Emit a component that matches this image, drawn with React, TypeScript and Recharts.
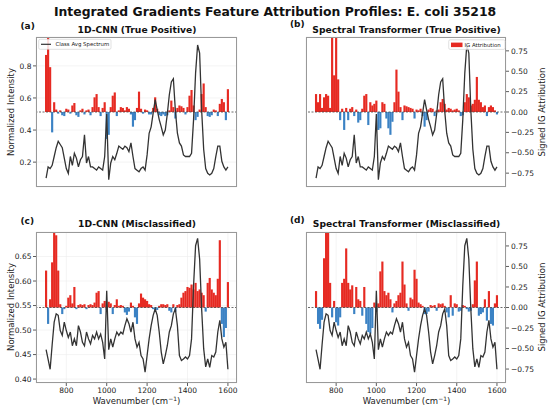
import React from 'react';
import { ComposedChart, Bar, Line, XAxis, YAxis, CartesianGrid, ReferenceLine, Cell } from 'recharts';

const FONT = '"DejaVu Sans", "Liberation Sans", sans-serif';

const wavenumbers = [
  700, 710, 720, 730, 740, 750, 760, 770, 780, 790,
  800, 810, 820, 830, 840, 850, 860, 870, 880, 890,
  900, 910, 920, 930, 940, 950, 960, 970, 980, 990,
  1000, 1010, 1020, 1030, 1040, 1050, 1060, 1070, 1080, 1090,
  1100, 1110, 1120, 1130, 1140, 1150, 1160, 1170, 1180, 1190,
  1200, 1210, 1220, 1230, 1240, 1250, 1260, 1270, 1280, 1290,
  1300, 1310, 1320, 1330, 1340, 1350, 1360, 1370, 1380, 1390,
  1400, 1410, 1420, 1430, 1440, 1450, 1460, 1470, 1480, 1490,
  1500, 1510, 1520, 1530, 1540, 1550, 1560, 1570, 1580, 1590,
  1600,
];

// Class average spectrum (true positive panels a, b)
const spectrumTP = [
  0.10, 0.17, 0.16, 0.18, 0.235, 0.29, 0.33, 0.31, 0.29, 0.225,
  0.16, 0.13, 0.235, 0.18, 0.255, 0.225, 0.17, 0.215, 0.235, 0.37,
  0.195, 0.235, 0.17, 0.17, 0.16, 0.15, 0.17, 0.16, 0.15, 0.235,
  0.50, 0.09, 0.195, 0.235, 0.215, 0.255, 0.30, 0.29, 0.28, 0.30,
  0.29, 0.265, 0.32, 0.235, 0.16, 0.15, 0.14, 0.16, 0.17, 0.15,
  0.245, 0.38, 0.42, 0.505, 0.59, 0.525, 0.465, 0.42, 0.37, 0.40,
  0.50, 0.62, 0.70, 0.72, 0.52, 0.38, 0.32, 0.30, 0.245, 0.235,
  0.235, 0.235, 0.255, 0.465, 0.755, 0.93, 0.88, 0.525, 0.28, 0.16,
  0.13, 0.12, 0.13, 0.16, 0.235, 0.30, 0.30, 0.205, 0.17, 0.15,
  0.17,
];

// Misclassified sample spectrum (panels c, d)
const spectrumMis = [
  0.46, 0.44, 0.42, 0.47, 0.516, 0.533, 0.53, 0.499, 0.489, 0.516,
  0.499, 0.485, 0.496, 0.468, 0.482, 0.468, 0.509, 0.496, 0.475, 0.468,
  0.496, 0.482, 0.472, 0.489, 0.482, 0.496, 0.482, 0.492, 0.475, 0.441,
  0.58, 0.46, 0.482, 0.465, 0.482, 0.496, 0.489, 0.496, 0.492, 0.509,
  0.523, 0.513, 0.496, 0.516, 0.482, 0.465, 0.475, 0.448, 0.441, 0.414,
  0.448, 0.482, 0.509, 0.53, 0.543, 0.53, 0.496, 0.455, 0.431, 0.448,
  0.468, 0.496, 0.509, 0.533, 0.543, 0.509, 0.448, 0.438, 0.441, 0.445,
  0.441, 0.448, 0.482, 0.591, 0.672, 0.687, 0.645, 0.543, 0.462, 0.425,
  0.441, 0.424, 0.448, 0.445, 0.455, 0.496, 0.52, 0.482, 0.465, 0.475,
  0.42,
];

const attrCnnTP = [
  0.70, 0.92, 0.55, -0.25, 0.12, 0.03, -0.02, 0.02, -0.04, -0.05,
  0.04, 0.03, -0.02, 0.08, 0.11, -0.04, -0.06, 0.02, 0.04, -0.03,
  0.02, 0.03, -0.04, 0.06, 0.18, 0.22, 0.06, -0.05, 0.05, 0.12,
  -0.33, -0.28, 0.06, 0.20, 0.24, -0.05, 0.02, 0.06, 0.05, 0.02,
  0.06, 0.04, -0.03, -0.18, -0.10, 0.05, 0.25, 0.04, -0.02, 0.03,
  0.02, -0.03, -0.03, 0.05, 0.18, 0.04, -0.04, -0.05, -0.03, -0.05,
  -0.04, 0.02, 0.14, 0.06, -0.08, 0.05, 0.08, 0.07, 0.05, -0.03,
  0.06, 0.20, 0.27, 0.08, -0.10, -0.06, 0.03, 0.22, 0.35, 0.06,
  -0.05, -0.06, -0.04, 0.03, 0.02, -0.05, 0.10, 0.16, 0.12, -0.10,
  0.28,
];

const attrTfTP = [
  0.22, 0.12, 0.22, 0.05, 0.18, 0.22, 0.20, 0.05, 0.92, 0.45,
  0.92, 0.40, -0.10, 0.04, -0.22, 0.05, -0.10, 0.04, 0.06, -0.05,
  0.03, -0.13, -0.10, 0.04, 0.20, 0.22, -0.16, 0.12, 0.08, 0.10,
  0.14, -0.22, -0.20, 0.12, 0.10, -0.08, -0.20, -0.28, -0.12, 0.12,
  0.52, 0.25, 0.06, -0.10, 0.08, 0.07, 0.06, 0.05, 0.04, -0.08,
  0.03, 0.02, 0.04, -0.05, -0.18, -0.10, 0.03, 0.05, 0.04, -0.05,
  0.02, 0.03, 0.12, 0.16, 0.10, 0.03, 0.05, 0.04, 0.02, 0.03,
  0.04, 0.02, -0.05, -0.04, 0.12, 0.22, 0.18, 0.08, 0.10, 0.15,
  0.43, 0.15, 0.12, 0.06, 0.08, -0.05, 0.06, 0.08, 0.06, 0.02,
  -0.03,
];

const attrCnnMis = [
  0.45, -0.20, 0.10, 0.55, 0.92, 0.88, 0.45, 0.04, -0.08, -0.02,
  0.02, 0.12, 0.15, 0.05, 0.25, -0.02, 0.03, 0.04, 0.03, 0.04,
  -0.02, 0.03, 0.04, 0.03, 0.06, 0.18, 0.20, -0.08, 0.05, 0.08,
  -0.03, 0.07, 0.05, -0.08, 0.03, 0.10, 0.02, 0.03, 0.02, -0.06,
  -0.09, -0.05, 0.06, 0.02, -0.12, -0.20, 0.05, 0.17, 0.12, 0.10,
  0.08, 0.04, 0.03, -0.02, -0.03, -0.03, 0.02, 0.04, 0.04, 0.03,
  0.04, -0.04, -0.06, 0.04, -0.05, 0.03, 0.04, 0.12, 0.18, 0.20,
  0.25, 0.24, 0.28, 0.22, 0.30, 0.20, 0.22, 0.18, 0.15, -0.05,
  0.30, 0.36, 0.22, 0.18, 0.15, 0.35, 0.82, -0.20, -0.36, -0.25,
  0.31,
];

const attrTfMis = [
  0.20, -0.20, -0.26, -0.15, 0.60, 0.92, 0.92, 0.30, -0.12, 0.08,
  -0.18, -0.22, -0.12, 0.30, 0.35, 0.72, 0.30, 0.22, 0.27, -0.08,
  0.25, 0.10, 0.08, -0.10, 0.25, -0.20, -0.30, -0.32, -0.25, 0.06,
  -0.05, 0.05, 0.44, 0.56, 0.20, 0.15, 0.18, 0.10, -0.06, 0.05,
  0.08, 0.15, 0.18, 0.56, 0.28, 0.05, -0.04, 0.12, 0.10, 0.46,
  0.35, 0.06, 0.04, 0.02, -0.08, -0.08, -0.05, 0.03, 0.02, 0.03,
  -0.04, 0.05, 0.04, 0.05, 0.02, -0.06, -0.12, 0.15, -0.10, 0.05,
  0.04, -0.05, -0.04, 0.03, 0.02, -0.02, -0.05, -0.04, 0.04, 0.33,
  0.56, -0.10, -0.08, -0.06, 0.10, -0.16, 0.20, -0.20, -0.22, 0.05,
  0.15,
];

const xTicks = [800, 1000, 1200, 1400, 1600];
const intensityTicksTP = [0.2, 0.4, 0.6, 0.8];
const intensityTicksMis = [0.4, 0.45, 0.5, 0.55, 0.6, 0.65];
const attrTicks = [-0.75, -0.5, -0.25, 0, 0.25, 0.5, 0.75];
const unlabeledTicksB = [0.145, 0.259, 0.375, 0.489, 0.606, 0.723, 0.838, 0.955];
const unlabeledTicksD = [0.4287, 0.475, 0.5205, 0.5668, 0.6123, 0.6586];

const RED = '#e62a22';
const BLUE = '#3b82c4';
const BAR_W = 2.15;

const fmtSigned = (v: number) => {
  const s = v.toFixed(2);
  return v < 0 ? '\u2212' + s.slice(1) : s;
};

// draws the bar the library positioned, with a fixed pixel width about its centre
const AttrBar = (p: any) => {
  if (p == null || p.x == null || p.height == null) return null;
  const cx = p.x + p.width / 2;
  const y0 = Math.min(p.y, p.y + p.height);
  const h = Math.abs(p.height);
  return <rect x={cx - BAR_W / 2} y={y0} width={BAR_W} height={h} fill={p.fill} />;
};

type Box = { x: number; y: number; w: number; h: number };

function Panel(props: {
  box: Box;
  spectrum: number[];
  attr: number[];
  yDomain: [number, number];
  leftTicks: number[];
  leftLabels: boolean;
  leftFmt?: (v: number) => string;
  rightLabels: boolean;
  xLabels: boolean;
}) {
  const { box, spectrum, attr, yDomain, leftTicks, leftLabels, leftFmt, rightLabels, xLabels } = props;
  const rows = wavenumbers.map((w, i) => ({ w, spec: spectrum[i], attr: attr[i] }));
  const ML = 40, MR = 40, MT = 2, MB = 22;
  const AW = 30, XH = 18;
  const tickStyle = { fontSize: 7.5, fill: '#222', fontFamily: FONT };
  const tickLine = { stroke: '#333', strokeWidth: 0.8 };
  return (
    <div style={{ position: 'absolute', left: box.x - ML, top: box.y - MT }}>
      <ComposedChart
        width={box.w + ML + MR}
        height={box.h + MT + MB}
        data={rows}
        barCategoryGap={0}
        barGap={0}
        margin={{ top: MT, right: MR - AW, bottom: MB - XH, left: ML - AW }}
      >
        <CartesianGrid xAxisId="x" yAxisId="left" stroke="#ededed" strokeWidth={0.6} />
        <XAxis
          xAxisId="x"
          dataKey="w"
          type="number"
          domain={[650, 1645]}
          ticks={xTicks}
          allowDataOverflow
          height={XH}
          axisLine={false}
          tickLine={tickLine}
          tickSize={3}
          tickMargin={1.5}
          tick={xLabels ? tickStyle : false}
          interval={0}
        />
        <YAxis
          yAxisId="left"
          orientation="left"
          domain={yDomain}
          ticks={leftTicks}
          allowDataOverflow
          width={AW}
          axisLine={false}
          tickLine={tickLine}
          tickSize={3}
          tickMargin={1.5}
          tick={leftLabels ? tickStyle : false}
          tickFormatter={leftFmt}
          interval={0}
        />
        <YAxis
          yAxisId="right"
          orientation="right"
          domain={[-0.92, 0.92]}
          ticks={attrTicks}
          allowDataOverflow
          width={AW}
          axisLine={false}
          tickLine={tickLine}
          tickSize={3}
          tickMargin={2}
          tick={rightLabels ? tickStyle : false}
          tickFormatter={fmtSigned}
          interval={0}
        />
        <Bar xAxisId="x" yAxisId="right" dataKey="attr" shape={AttrBar} isAnimationActive={false}>
          {rows.map((r, i) => (
            <Cell key={i} fill={r.attr >= 0 ? RED : BLUE} />
          ))}
        </Bar>
        <ReferenceLine xAxisId="x" yAxisId="right" y={0} stroke="#444" strokeWidth={0.8} strokeDasharray="2 1.5" />
        <Line
          xAxisId="x"
          yAxisId="left"
          dataKey="spec"
          type="linear"
          stroke="#333"
          strokeWidth={1.3}
          dot={false}
          isAnimationActive={false}
        />
      </ComposedChart>
      <div
        style={{
          position: 'absolute',
          left: ML,
          top: MT,
          width: box.w,
          height: box.h,
          border: '0.8px solid #999',
          boxSizing: 'border-box',
          pointerEvents: 'none',
        }}
      />
    </div>
  );
}

const boxA: Box = { x: 36, y: 37, w: 201, h: 150 };
const boxB: Box = { x: 306, y: 37, w: 200, h: 150 };
const boxC: Box = { x: 36, y: 232, w: 201, h: 151 };
const boxD: Box = { x: 306, y: 232, w: 200, h: 151 };

function WaveLabel({ x, y }: { x: number; y: number }) {
  return (
    <text x={x} y={y} textAnchor="middle" fontSize={8.5} fill="#222" fontFamily={FONT}>
      Wavenumber (cm
      <tspan fontSize={6} dy={-3.5}>{'\u22121'}</tspan>
      <tspan dy={3.5}>)</tspan>
    </text>
  );
}

export default function App() {
  const titleStyle = { fontFamily: FONT, fontWeight: 700, fill: '#111' } as const;
  return (
    <div style={{ position: 'absolute', left: 0, top: 0, width: 550, height: 409, background: '#fff', overflow: 'hidden' }}>
      <Panel box={boxA} spectrum={spectrumTP} attr={attrCnnTP} yDomain={[0.045, 0.98]} leftTicks={intensityTicksTP}
        leftLabels leftFmt={(v) => v.toFixed(1)} rightLabels={false} xLabels={false} />
      <Panel box={boxB} spectrum={spectrumTP} attr={attrTfTP} yDomain={[0.045, 0.98]} leftTicks={unlabeledTicksB}
        leftLabels={false} rightLabels xLabels={false} />
      <Panel box={boxC} spectrum={spectrumMis} attr={attrCnnMis} yDomain={[0.392, 0.7]} leftTicks={intensityTicksMis}
        leftLabels leftFmt={(v) => v.toFixed(2)} rightLabels={false} xLabels />
      <Panel box={boxD} spectrum={spectrumMis} attr={attrTfMis} yDomain={[0.392, 0.7]} leftTicks={unlabeledTicksD}
        leftLabels={false} rightLabels xLabels />
      <svg width={550} height={409} style={{ position: 'absolute', left: 0, top: 0, pointerEvents: 'none' }}>
        <text x={275} y={16} textAnchor="middle" fontSize={12.4} {...titleStyle}>
          Integrated Gradients Feature Attribution Profiles: E. coli 35218
        </text>
        <text x={137} y={32.5} textAnchor="middle" fontSize={9.2} {...titleStyle}>1D-CNN (True Positive)</text>
        <text x={406.5} y={32.5} textAnchor="middle" fontSize={9.2} {...titleStyle}>Spectral Transformer (True Positive)</text>
        <text x={137} y={226.5} textAnchor="middle" fontSize={9.2} {...titleStyle}>1D-CNN (Misclassified)</text>
        <text x={406.5} y={226.5} textAnchor="middle" fontSize={9.2} {...titleStyle}>Spectral Transformer (Misclassified)</text>
        <text x={20.5} y={28.5} fontSize={9} {...titleStyle}>(a)</text>
        <text x={290} y={27} fontSize={9} {...titleStyle}>(b)</text>
        <text x={20.5} y={223.5} fontSize={9} {...titleStyle}>(c)</text>
        <text x={290} y={222.5} fontSize={9} {...titleStyle}>(d)</text>
        <text x={10.5} y={112} transform="rotate(-90, 10.5, 112)" textAnchor="middle" dominantBaseline="central" fontSize={8.5} fill="#222" fontFamily={FONT}>Normalized Intensity</text>
        <text x={10.5} y={307} transform="rotate(-90, 10.5, 307)" textAnchor="middle" dominantBaseline="central" fontSize={8.5} fill="#222" fontFamily={FONT}>Normalized Intensity</text>
        <text x={541.5} y={112} transform="rotate(-90, 541.5, 112)" textAnchor="middle" dominantBaseline="central" fontSize={8.5} fill="#222" fontFamily={FONT}>Signed IG Attribution</text>
        <text x={541.5} y={307} transform="rotate(-90, 541.5, 307)" textAnchor="middle" dominantBaseline="central" fontSize={8.5} fill="#222" fontFamily={FONT}>Signed IG Attribution</text>
        <WaveLabel x={136.5} y={404} />
        <WaveLabel x={406.5} y={404} />
        {/* legend (a) */}
        <rect x={38.7} y={39.3} width={72.3} height={10} rx={1.5} fill="#fff" fillOpacity={0.85} stroke="#ccc" strokeWidth={0.6} />
        <line x1={41} y1={44.3} x2={51} y2={44.3} stroke="#333" strokeWidth={1.2} />
        <text x={55.5} y={46.3} fontSize={5.4} fill="#222" fontFamily={FONT}>Class Avg Spectrum</text>
        {/* legend (b) */}
        <rect x={448.7} y={39.8} width={56.3} height={9.6} rx={1.5} fill="#fff" fillOpacity={0.85} stroke="#ccc" strokeWidth={0.6} />
        <rect x={451} y={42.6} width={11.5} height={4.5} fill={RED} />
        <text x={464.5} y={46.5} fontSize={5.4} fill="#222" fontFamily={FONT}>IG Attribution</text>
      </svg>
    </div>
  );
}
